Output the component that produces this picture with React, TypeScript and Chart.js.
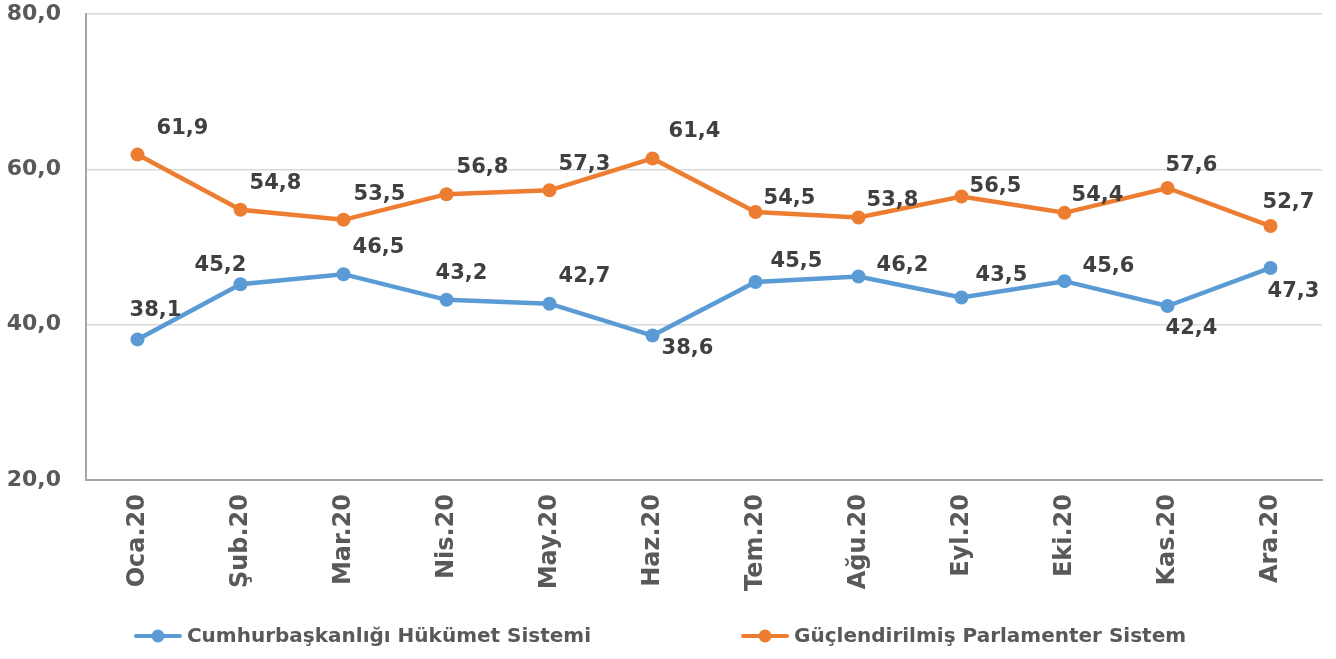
import React, { useEffect, useRef } from "react";
import { Chart, registerables } from "chart.js";
Chart.register(...registerables);

const categories = ["Oca.20", "Şub.20", "Mar.20", "Nis.20", "May.20", "Haz.20", "Tem.20", "Ağu.20", "Eyl.20", "Eki.20", "Kas.20", "Ara.20"];
const cumhurbaskanligi = [38.1, 45.2, 46.5, 43.2, 42.7, 38.6, 45.5, 46.2, 43.5, 45.6, 42.4, 47.3];
const guclendirilmis = [61.9, 54.8, 53.5, 56.8, 57.3, 61.4, 54.5, 53.8, 56.5, 54.4, 57.6, 52.7];
const seriesNames = ["Cumhurbaşkanlığı Hükümet Sistemi", "Güçlendirilmiş Parlamenter Sistem"];
const yMin = 20;
const yMax = 80;
const yStep = 20;

// label placement styles (offset of label centre from its point)
const blueLabelOffsets = [[18, -29], [-20, -19], [35, -27], [15, -26], [35, -27], [35, 13], [41, -20], [44, -11], [40, -22], [44, -15], [24, 23], [23, 24]];
const orangeLabelOffsets = [[45, -26], [35, -26], [36, -25], [36, -27], [35, -26], [42, -27], [34, -14], [34, -17], [34, -10], [33, -17], [24, -22], [18, -23]];

const FONT = "'DejaVu Sans', sans-serif";
const BLUE = "#5B9BD5";
const ORANGE = "#ED7D31";

const fmt = (v: number) => v.toFixed(1).replace(".", ",");

const dataLabelPlugin = {
  id: "dataLabels",
  afterDatasetsDraw(chart: any) {
    const ctx = chart.ctx;
    ctx.save();
    ctx.font = `bold 21px ${FONT}`;
    ctx.fillStyle = "#404040";
    ctx.textAlign = "center";
    ctx.textBaseline = "middle";
    chart.data.datasets.forEach((ds: any, i: number) => {
      const meta = chart.getDatasetMeta(i);
      const offs = ds.labelOffsets;
      meta.data.forEach((pt: any, j: number) => {
        const [dx, dy] = offs[j];
        ctx.fillText(fmt(ds.data[j]), pt.x + dx, pt.y + dy);
      });
    });
    ctx.restore();
  },
};

const legendPlugin = {
  id: "customLegend",
  afterDraw(chart: any) {
    const ctx = chart.ctx;
    ctx.save();
    ctx.font = `bold 20px ${FONT}`;
    const markerW = 48;
    const gapText = 5;
    const gapItems = 150;
    const items = chart.data.datasets.map((ds: any) => ({
      text: ds.label,
      color: ds.borderColor,
      w: markerW + gapText + ctx.measureText(ds.label).width,
    }));
    const total = items.reduce((s: number, it: any) => s + it.w, 0) + gapItems * (items.length - 1);
    const center = (chart.chartArea.left + chart.chartArea.right) / 2 - 44;
    let x = center - total / 2;
    const y = chart.height - 23;
    items.forEach((it: any) => {
      ctx.strokeStyle = it.color;
      ctx.lineWidth = 4;
      ctx.lineCap = "round";
      ctx.beginPath();
      ctx.moveTo(x + 2, y);
      ctx.lineTo(x + markerW - 2, y);
      ctx.stroke();
      ctx.fillStyle = it.color;
      ctx.beginPath();
      ctx.arc(x + markerW / 2, y, 6.5, 0, Math.PI * 2);
      ctx.fill();
      ctx.fillStyle = "#595959";
      ctx.textAlign = "left";
      ctx.textBaseline = "middle";
      ctx.fillText(it.text, x + markerW + gapText, y + 1);
      x += it.w + gapItems;
    });
    ctx.restore();
  },
};

export default function App() {
  const ref = useRef<HTMLCanvasElement | null>(null);
  useEffect(() => {
    if (!ref.current) return;
    const chart = new Chart(ref.current, {
      type: "line",
      data: {
        labels: categories,
        datasets: [
          {
            label: seriesNames[0],
            data: cumhurbaskanligi,
            borderColor: BLUE,
            backgroundColor: BLUE,
            borderWidth: 4.5,
            pointRadius: 7,
            pointHoverRadius: 7,
            pointBorderWidth: 0,
            tension: 0,
            labelOffsets: blueLabelOffsets,
          } as any,
          {
            label: seriesNames[1],
            data: guclendirilmis,
            borderColor: ORANGE,
            backgroundColor: ORANGE,
            borderWidth: 4.5,
            pointRadius: 7,
            pointHoverRadius: 7,
            pointBorderWidth: 0,
            tension: 0,
            labelOffsets: orangeLabelOffsets,
          } as any,
        ],
      },
      options: {
        animation: false,
        responsive: false,
        maintainAspectRatio: false,
        layout: { padding: { top: 14, right: 14, bottom: 59, left: 0 } },
        plugins: { legend: { display: false }, tooltip: { enabled: false } },
        scales: {
          x: {
            offset: true,
            grid: { display: false, drawTicks: false },
            border: { color: "#a6a6a6", width: 2 },
            ticks: {
              color: "#595959",
              font: { family: FONT, size: 24, weight: "bold" },
              maxRotation: 90,
              minRotation: 90,
              padding: 14,
              autoSkip: false,
            },
            afterFit: (s: any) => { s.height = 120; s.paddingLeft = 0; s.paddingRight = 0; },
          },
          y: {
            min: yMin,
            max: yMax,
            grid: { color: "#d9d9d9", lineWidth: 1.5, drawTicks: false },
            border: { color: "#a6a6a6", width: 2 },
            ticks: {
              stepSize: yStep,
              color: "#595959",
              font: { family: FONT, size: 22, weight: "bold" },
              padding: 25,
              callback: (v: any) => fmt(Number(v)),
            },
            afterFit: (s: any) => { s.width = 86; s.paddingTop = 0; s.paddingBottom = 0; },
          },
        },
      },
      plugins: [dataLabelPlugin, legendPlugin],
    });
    return () => chart.destroy();
  }, []);
  return (
    <div style={{ position: "absolute", left: 0, top: 0, width: 1336, height: 659, background: "#fff" }}>
      <canvas ref={ref} width={1336} height={659} style={{ display: "block" }} />
    </div>
  );
}
